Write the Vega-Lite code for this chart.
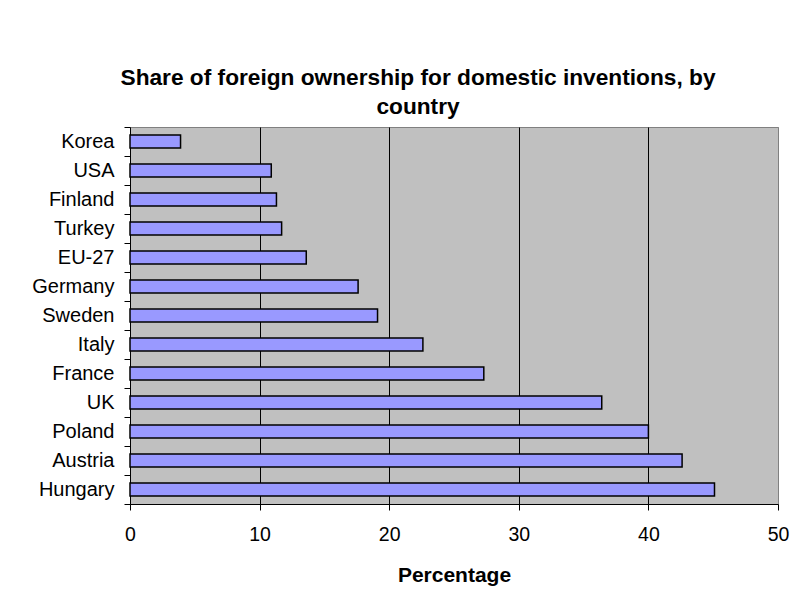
{
  "$schema": "https://vega.github.io/schema/vega-lite/v6.json",
  "autosize": {"type": "none"},
  "width": 648,
  "height": 377,
  "padding": {"left": 130, "top": 127, "right": 17, "bottom": 99},
  "background": "white",
  "title": {
    "text": ["Share of foreign ownership for domestic inventions, by", "country"],
    "font": "Liberation Sans",
    "fontSize": 22.7,
    "fontWeight": "bold",
    "color": "black",
    "lineHeight": 29,
    "anchor": "middle",
    "frame": "group",
    "dx": -36,
    "offset": -2
  },
  "config": {
    "view": {"fill": "#C0C0C0", "stroke": "#808080", "strokeWidth": 1},
    "font": "Liberation Sans"
  },
  "data": {
    "values": [
      {"country": "Korea", "value": 3.9},
      {"country": "USA", "value": 10.9},
      {"country": "Finland", "value": 11.3},
      {"country": "Turkey", "value": 11.7},
      {"country": "EU-27", "value": 13.6},
      {"country": "Germany", "value": 17.6},
      {"country": "Sweden", "value": 19.1},
      {"country": "Italy", "value": 22.6},
      {"country": "France", "value": 27.3},
      {"country": "UK", "value": 36.4},
      {"country": "Poland", "value": 40.0},
      {"country": "Austria", "value": 42.6},
      {"country": "Hungary", "value": 45.1}
    ]
  },
  "mark": {"type": "bar", "fill": "#9999FF", "stroke": "black", "strokeWidth": 1.5, "height": {"band": 0.45}},
  "encoding": {
    "y": {
      "field": "country",
      "type": "nominal",
      "sort": null,
      "scale": {"paddingInner": 0, "paddingOuter": 0},
      "axis": {
        "title": null,
        "tickBand": "extent",
        "labelFont": "Liberation Sans",
        "labelFontSize": 20,
        "labelColor": "black",
        "labelPadding": 10,
        "tickSize": 6,
        "tickColor": "black",
        "domainColor": "black",
        "grid": false
      }
    },
    "x": {
      "field": "value",
      "type": "quantitative",
      "scale": {"domain": [0, 50], "nice": false},
      "axis": {
        "values": [0, 10, 20, 30, 40, 50],
        "title": "Percentage",
        "titleFont": "Liberation Sans",
        "titleFontSize": 21,
        "titleFontWeight": "bold",
        "titleColor": "black",
        "titlePadding": 21,
        "labelFont": "Liberation Sans",
        "labelFontSize": 19.5,
        "labelColor": "black",
        "labelPadding": 15,
        "labelFlush": false,
        "labelOverlap": false,
        "tickSize": 6,
        "tickColor": "black",
        "domainColor": "black",
        "grid": true,
        "gridColor": {"condition": {"test": "datum.value === 50 || datum.value === 0", "value": "#808080"}, "value": "black"},
        "gridOpacity": 1
      }
    }
  }
}
